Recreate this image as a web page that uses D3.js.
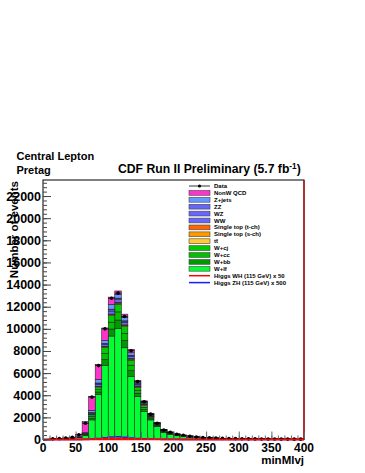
<!DOCTYPE html>
<html>
<head>
<meta charset="utf-8">
<script src="https://cdn.jsdelivr.net/npm/d3@7"></script>
<style>
  body { margin: 0; background: #fff; }
  svg { display: block; }
  text { font-family: "Liberation Sans", Arial, sans-serif; font-weight: bold; fill: #000; }
</style>
</head>
<body>
<svg id="chart" width="365" height="473"></svg>
<script>
// bin low edges, 10 GeV wide, 0..390
var binEdges = d3.range(0, 400, 10);

var dataCounts = [0, 60, 80, 130, 200, 430, 1470, 3830, 6680, 10000, 12770, 13230, 11110, 8020, 5230, 3410, 2290, 1470, 860, 650,
                  480, 380, 300, 230, 180, 150, 120, 100, 90, 80, 70, 60, 55, 50, 45, 40, 38, 35, 32, 30];

var nonWQCD   = [0, 30, 40, 60, 100, 200, 1000, 1270, 1360, 1140, 670, 300, 300, 300, 150, 60, 40, 30, 20, 15,
                 10, 10, 8, 6, 5, 4, 3, 3, 3, 2, 2, 2, 2, 2, 1, 1, 1, 1, 1, 1];
var zJets     = [0, 3, 3, 5, 8, 15, 55, 200, 330, 270, 420, 350, 300, 220, 140, 90, 60, 30, 18, 14,
                 10, 8, 6, 5, 4, 3, 3, 2, 2, 2, 2, 1, 1, 1, 1, 1, 1, 1, 1, 1];
var zz        = [0, 0, 0, 0, 1, 2, 5, 15, 25, 20, 35, 30, 28, 22, 14, 10, 8, 4, 3, 2,
                 2, 1, 1, 1, 1, 1, 1, 0, 0, 0, 0, 0, 0, 0, 0, 0, 0, 0, 0, 0];
var wz        = [0, 0, 1, 1, 2, 4, 15, 50, 90, 75, 130, 110, 100, 80, 50, 40, 30, 15, 9, 8,
                 6, 5, 4, 4, 3, 3, 2, 2, 2, 1, 1, 1, 1, 1, 1, 1, 1, 1, 1, 1];
var ww        = [0, 1, 1, 2, 3, 8, 30, 110, 190, 160, 280, 250, 240, 200, 150, 110, 80, 40, 25, 20,
                 16, 12, 10, 8, 6, 5, 4, 3, 3, 3, 2, 2, 2, 2, 2, 1, 1, 1, 1, 1];
var stopT     = [0, 0, 0, 0, 0, 1, 3, 8, 15, 25, 35, 40, 40, 35, 28, 22, 16, 12, 9, 7,
                 5, 4, 3, 3, 2, 2, 2, 1, 1, 1, 1, 1, 1, 1, 1, 0, 0, 0, 0, 0];
var stopS     = [0, 0, 0, 0, 0, 0, 1, 3, 6, 10, 15, 18, 18, 16, 13, 10, 8, 6, 5, 4,
                 3, 2, 2, 2, 1, 1, 1, 1, 1, 0, 0, 0, 0, 0, 0, 0, 0, 0, 0, 0];
var ttbar     = [0, 0, 0, 0, 1, 2, 5, 15, 30, 55, 80, 95, 100, 95, 85, 70, 55, 45, 35, 28,
                 22, 18, 15, 12, 10, 8, 7, 6, 5, 4, 4, 3, 3, 3, 2, 2, 2, 2, 1, 1];
var wcj       = [0, 2, 2, 3, 5, 15, 50, 150, 230, 540, 600, 700, 600, 460, 260, 170, 90, 55, 50, 40,
                 28, 22, 17, 14, 11, 9, 7, 6, 5, 4, 4, 3, 3, 2, 2, 2, 2, 1, 1, 1];
var wcc       = [0, 2, 2, 3, 5, 15, 50, 150, 230, 540, 620, 740, 640, 490, 270, 180, 90, 60, 52, 40,
                 30, 23, 18, 14, 11, 9, 7, 6, 5, 4, 4, 3, 3, 2, 2, 2, 2, 1, 1, 1];
var wbb       = [0, 1, 1, 4, 5, 20, 50, 160, 240, 560, 630, 770, 670, 510, 290, 200, 100, 65, 58, 45,
                 32, 25, 20, 16, 12, 10, 8, 7, 6, 5, 4, 3, 3, 3, 2, 2, 2, 2, 1, 1];
var wlf       = [0, 20, 30, 50, 70, 170, 360, 1770, 4050, 6680, 9350, 10020, 8290, 5710, 3890, 2530, 1770, 1160, 620, 460,
                 340, 270, 212, 160, 125, 105, 84, 70, 60, 52, 45, 40, 36, 32, 29, 26, 24, 22, 20, 18];

var higgsWH50  = [0, 0, 0, 0, 1, 3, 8, 20, 45, 80, 110, 120, 100, 70, 45, 30, 20, 14, 10, 8,
                  6, 5, 4, 3, 3, 2, 2, 2, 1, 1, 1, 1, 1, 1, 1, 1, 1, 1, 1, 0];
var higgsZH500 = [0, 0, 0, 0, 2, 5, 15, 40, 90, 160, 220, 240, 200, 140, 90, 60, 40, 28, 20, 15,
                  12, 9, 7, 6, 5, 4, 3, 3, 2, 2, 2, 1, 1, 1, 1, 1, 1, 1, 1, 0];

var xTicks = [0, 50, 100, 150, 200, 250, 300, 350, 400];
var yTicks = [0, 2000, 4000, 6000, 8000, 10000, 12000, 14000, 16000, 18000, 20000, 22000];

// stack, top of legend first
var samples = [
    {key: "qcd",  name: "NonW QCD",          color: "#ff33cc", values: nonWQCD},
    {key: "zj",   name: "Z+jets",            color: "#6699ff", values: zJets},
    {key: "zz",   name: "ZZ",                color: "#6666ff", values: zz},
    {key: "wz",   name: "WZ",                color: "#6666ff", values: wz},
    {key: "ww",   name: "WW",                color: "#6666ff", values: ww},
    {key: "stt",  name: "Single top (t-ch)", color: "#ff6600", values: stopT},
    {key: "sts",  name: "Single top (s-ch)", color: "#ff9900", values: stopS},
    {key: "tt",   name: "tt",                color: "#ffcc33", values: ttbar},
    {key: "wcj",  name: "W+cj",              color: "#00cc00", values: wcj},
    {key: "wcc",  name: "W+cc",              color: "#00c000", values: wcc},
    {key: "wbb",  name: "W+bb",              color: "#009900", values: wbb},
    {key: "wlf",  name: "W+lf",              color: "#00ff33", values: wlf}
];

var margin = {left: 43, right: 304, top: 180, bottom: 439.5};

var svg = d3.select("#chart");
var x = d3.scaleLinear().domain([0, 400]).range([margin.left, margin.right]);
var y = d3.scaleLinear().domain([0, 23450]).range([margin.bottom, margin.top]);

svg.append("rect").attr("width", 365).attr("height", 473).attr("fill", "#fff");

// stacked MC
var rows = binEdges.map(function (lo, i) {
    var r = {lo: lo};
    samples.forEach(function (s) { r[s.key] = s.values[i]; });
    return r;
});
var keysBottomUp = samples.map(function (s) { return s.key; }).reverse();
var stacked = d3.stack().keys(keysBottomUp)(rows);
var colorOf = {};
samples.forEach(function (s) { colorOf[s.key] = s.color; });

var gStack = svg.append("g");
stacked.forEach(function (layer) {
    gStack.selectAll(null)
        .data(layer.filter(function (d) { return d[1] - d[0] > 0; }))
        .enter()
        .append("rect")
        .attr("x", function (d) { return x(d.data.lo); })
        .attr("width", x(10) - x(0))
        .attr("y", function (d) { return y(d[1]); })
        .attr("height", function (d) { return y(d[0]) - y(d[1]); })
        .attr("fill", colorOf[layer.key])
        .attr("stroke", "#222")
        .attr("stroke-width", 0.6);
});

// higgs curves as step lines
function stepLine(values) {
    var pts = [];
    values.forEach(function (v, i) {
        pts.push([x(binEdges[i]), y(v)]);
        pts.push([x(binEdges[i] + 10), y(v)]);
    });
    return d3.line()(pts);
}
svg.append("path").attr("d", stepLine(higgsZH500)).attr("fill", "none")
    .attr("stroke", "#1a1aff").attr("stroke-width", 1.5);
svg.append("path").attr("d", stepLine(higgsWH50)).attr("fill", "none")
    .attr("stroke", "#ff0000").attr("stroke-width", 1.5);

// data points
var gData = svg.append("g");
var pts = binEdges.map(function (lo, i) { return {lo: lo, n: dataCounts[i]}; })
    .filter(function (d) { return d.n > 0; });
gData.selectAll(".eh").data(pts).enter().append("line")
    .attr("x1", function (d) { return x(d.lo); })
    .attr("x2", function (d) { return x(d.lo + 10); })
    .attr("y1", function (d) { return y(d.n); })
    .attr("y2", function (d) { return y(d.n); })
    .attr("stroke", "#000").attr("stroke-width", 0.8);
gData.selectAll(".ev").data(pts).enter().append("line")
    .attr("x1", function (d) { return x(d.lo + 5); })
    .attr("x2", function (d) { return x(d.lo + 5); })
    .attr("y1", function (d) { return y(d.n + Math.sqrt(d.n)); })
    .attr("y2", function (d) { return y(d.n - Math.sqrt(d.n)); })
    .attr("stroke", "#000").attr("stroke-width", 0.8);
gData.selectAll("circle").data(pts).enter().append("circle")
    .attr("cx", function (d) { return x(d.lo + 5); })
    .attr("cy", function (d) { return y(d.n); })
    .attr("r", 1.8).attr("fill", "#000");

// frame
svg.append("rect")
    .attr("x", margin.left).attr("y", margin.top)
    .attr("width", margin.right - margin.left).attr("height", margin.bottom - margin.top)
    .attr("fill", "none").attr("stroke", "#000").attr("stroke-width", 1);
svg.append("line")
    .attr("x1", margin.right).attr("x2", margin.right)
    .attr("y1", margin.top).attr("y2", margin.bottom)
    .attr("stroke", "#cc0000").attr("stroke-width", 1.2);
svg.append("line")
    .attr("x1", margin.left).attr("x2", margin.right)
    .attr("y1", margin.bottom).attr("y2", margin.bottom)
    .attr("stroke", "#ff0000").attr("stroke-width", 1.5);

// axes (ROOT style, ticks inside)
var axY = d3.axisRight(y).tickValues(yTicks).tickSize(8).tickFormat("");
svg.append("g").attr("transform", "translate(" + margin.left + ",0)").call(axY)
    .call(function (g) { g.select(".domain").remove(); g.selectAll("line").attr("stroke", "#444"); });
var axYminor = d3.axisRight(y).tickValues(d3.range(0, 23400, 400)).tickSize(4).tickFormat("");
svg.append("g").attr("transform", "translate(" + margin.left + ",0)").call(axYminor)
    .call(function (g) { g.select(".domain").remove(); g.selectAll("line").attr("stroke", "#444"); });

var axX = d3.axisTop(x).tickValues(xTicks).tickSize(8).tickFormat("");
svg.append("g").attr("transform", "translate(0," + margin.bottom + ")").call(axX)
    .call(function (g) { g.select(".domain").remove(); g.selectAll("line").attr("stroke", "#666"); });
var axXminor = d3.axisTop(x).tickValues(d3.range(0, 401, 10)).tickSize(4).tickFormat("");
svg.append("g").attr("transform", "translate(0," + margin.bottom + ")").call(axXminor)
    .call(function (g) { g.select(".domain").remove(); g.selectAll("line").attr("stroke", "#666"); });

// tick labels
svg.selectAll(".ylab").data(yTicks).enter().append("text")
    .attr("x", 41).attr("y", function (d) { return y(d); })
    .attr("dy", "0.36em").attr("text-anchor", "end")
    .attr("font-size", 12.5).text(function (d) { return d; });
svg.selectAll(".xlab").data(xTicks).enter().append("text")
    .attr("x", function (d) { return x(d); }).attr("y", 452)
    .attr("text-anchor", "middle")
    .attr("font-size", 12).text(function (d) { return d; });

// axis titles
svg.append("text").attr("x", 304).attr("y", 464).attr("text-anchor", "end")
    .attr("font-size", 11.5).text("minMlvj");
svg.append("text").attr("transform", "translate(18,181) rotate(-90)")
    .attr("text-anchor", "end").attr("font-size", 11.5).text("Number of events");

// titles
svg.append("text").attr("x", 16.5).attr("y", 160).attr("font-size", 11).text("Central Lepton");
svg.append("text").attr("x", 16.5).attr("y", 173.5).attr("font-size", 11).text("Pretag");
var title = svg.append("text").attr("x", 118).attr("y", 173).attr("font-size", 12.2);
title.append("tspan").text("CDF Run II Preliminary (5.7 fb");
title.append("tspan").attr("dy", -4.5).attr("font-size", 8.2).text("-1");
title.append("tspan").attr("dy", 4.5).text(")");

// legend
var legend = svg.append("g");
var legY0 = 186, legStep = 6.9;
var lx0 = 189, lx1 = 210;
var legFont = 6;
legend.append("line").attr("x1", lx0).attr("x2", lx1).attr("y1", legY0).attr("y2", legY0)
    .attr("stroke", "#000").attr("stroke-width", 0.8);
legend.append("circle").attr("cx", (lx0 + lx1) / 2).attr("cy", legY0).attr("r", 1.6).attr("fill", "#000");
legend.append("text").attr("x", 214).attr("y", legY0 + 2).attr("font-size", legFont).text("Data");

samples.forEach(function (s, i) {
    var cy = legY0 + legStep * (i + 1);
    legend.append("rect").attr("x", lx0).attr("y", cy - 2.4).attr("width", lx1 - lx0).attr("height", 4.8)
        .attr("fill", s.color).attr("stroke", "#444").attr("stroke-width", 0.6);
    var t = legend.append("text").attr("x", 214).attr("y", cy + 2).attr("font-size", legFont);
    if (s.key === "tt") {
        t.append("tspan").text("t");
        t.append("tspan").text("t\u0304");
    } else {
        t.text(s.name);
    }
});
var higgsLeg = [
    {name: "Higgs WH (115 GeV) x 50", color: "#ff0000"},
    {name: "Higgs ZH (115 GeV) x 500", color: "#1a1aff"}
];
higgsLeg.forEach(function (h, i) {
    var cy = legY0 + legStep * (samples.length + 1 + i);
    legend.append("line").attr("x1", lx0).attr("x2", lx1).attr("y1", cy).attr("y2", cy)
        .attr("stroke", h.color).attr("stroke-width", 1.5);
    legend.append("text").attr("x", 214).attr("y", cy + 2).attr("font-size", legFont).text(h.name);
});
</script>
</body>
</html>
